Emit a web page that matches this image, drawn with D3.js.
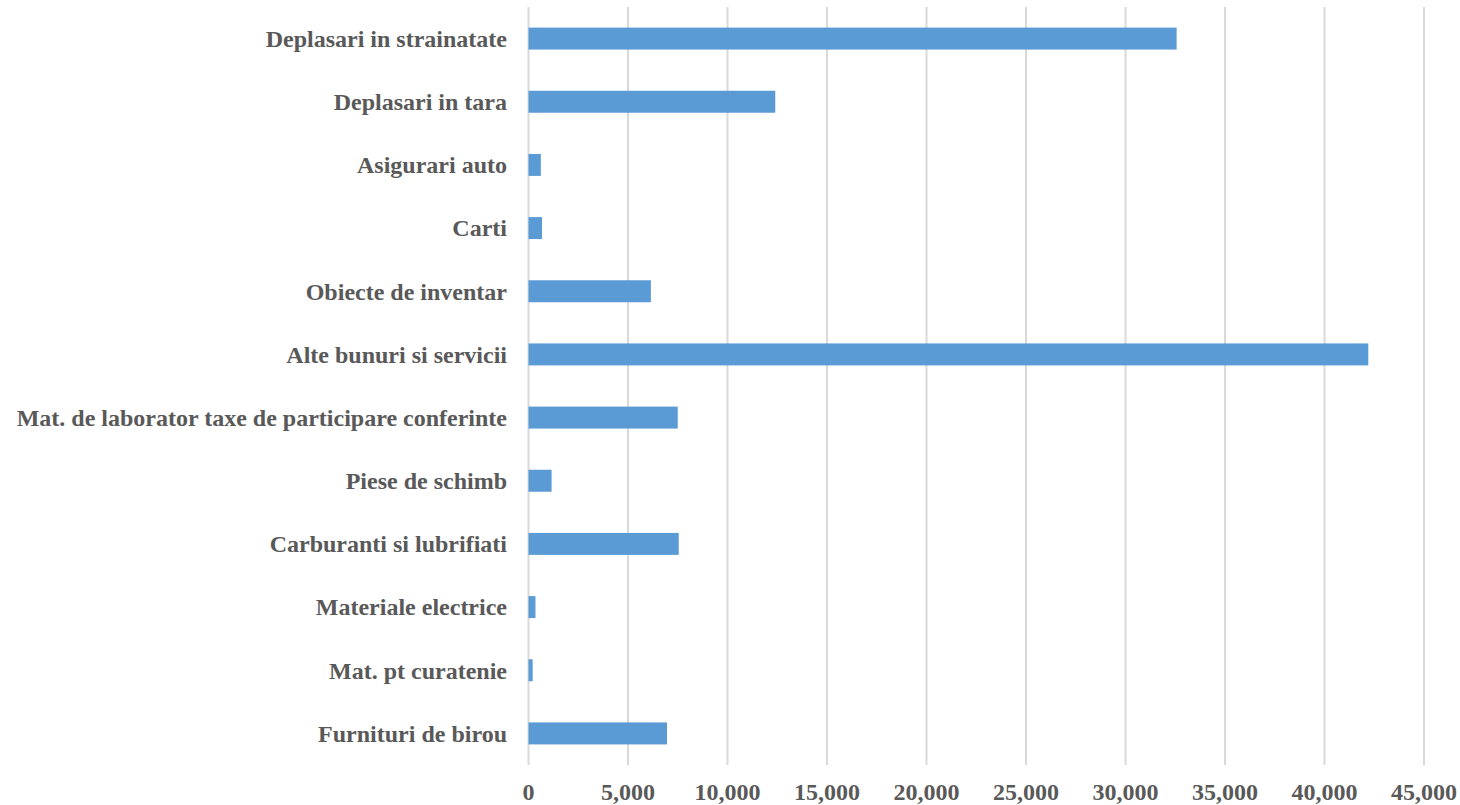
<!DOCTYPE html>
<html>
<head>
<meta charset="utf-8">
<title>Cheltuieli</title>
<script src="https://d3js.org/d3.v7.min.js"></script>
<style>
  body { margin: 0; background: #fff; }
  .lbl { font-family: "Liberation Serif", "Times New Roman", serif; font-weight: bold; fill: #595959; }
</style>
</head>
<body>
<div id="chart"></div>
<script>
// categories, top to bottom as drawn
const categories = [
  "Deplasari in strainatate",
  "Deplasari in tara",
  "Asigurari auto",
  "Carti",
  "Obiecte de inventar",
  "Alte bunuri si servicii",
  "Mat. de laborator taxe de participare conferinte",
  "Piese de schimb",
  "Carburanti si lubrifiati",
  "Materiale electrice",
  "Mat. pt curatenie",
  "Furnituri de birou"
];
const values = [32570, 12400, 620, 680, 6150, 42200, 7500, 1160, 7550, 350, 210, 6960];
const xTicks = [0, 5000, 10000, 15000, 20000, 25000, 30000, 35000, 40000, 45000];

const width = 1460, height = 805;
const plotLeft = 528.5, plotRight = 1424, plotTop = 7, plotBottom = 765;

const svg = d3.select("#chart").append("svg")
    .attr("width", width)
    .attr("height", height);

const x = d3.scaleLinear().domain([0, 45000]).range([plotLeft, plotRight]);
const y = d3.scaleBand().domain(categories).range([plotTop, plotBottom]).paddingInner(0.652).paddingOuter(0.326);

// gridlines
svg.append("g")
  .selectAll("line")
  .data(xTicks)
  .join("line")
    .attr("x1", d => x(d)).attr("x2", d => x(d))
    .attr("y1", plotTop).attr("y2", plotBottom)
    .attr("stroke", "#d9d9d9")
    .attr("stroke-width", 2);

// bars
svg.append("g")
  .selectAll("rect")
  .data(categories)
  .join("rect")
    .attr("x", x(0))
    .attr("y", d => y(d))
    .attr("width", (d, i) => x(values[i]) - x(0))
    .attr("height", y.bandwidth())
    .attr("fill", "#5b9bd5");

// category labels
svg.append("g")
  .selectAll("text")
  .data(categories)
  .join("text")
    .attr("class", "lbl")
    .attr("x", plotLeft - 21.5)
    .attr("y", d => y(d) + y.bandwidth() / 2)
    .attr("dy", "0.35em")
    .attr("text-anchor", "end")
    .style("font-size", "24px")
    .text(d => d);

// x axis tick labels
const fmt = d3.format(",");
svg.append("g")
  .selectAll("text")
  .data(xTicks)
  .join("text")
    .attr("class", "lbl")
    .attr("x", d => x(d))
    .attr("y", 792)
    .attr("dy", "0.35em")
    .attr("text-anchor", "middle")
    .style("font-size", "24px")
    .text(d => fmt(d));
</script>
</body>
</html>
